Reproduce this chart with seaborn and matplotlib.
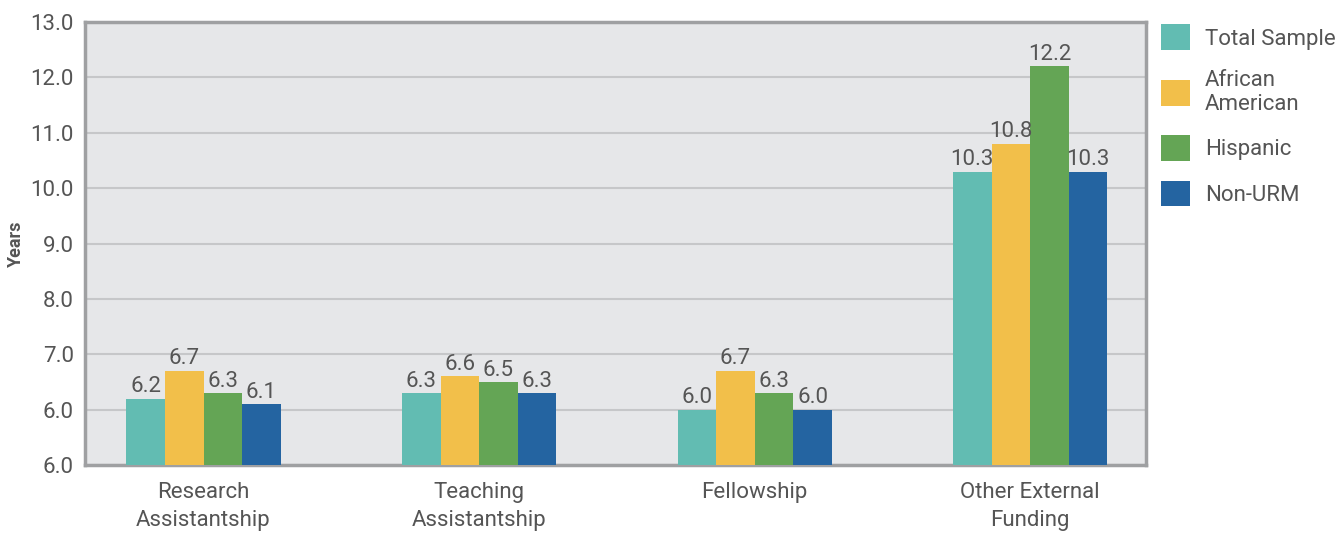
import matplotlib
matplotlib.use("Agg")
import matplotlib.pyplot as plt
import pandas as pd
import seaborn as sns

categories = ["Research\nAssistantship", "Teaching\nAssistantship", "Fellowship", "Other External\nFunding"]
groups = ["Total Sample", "African American", "Hispanic", "Non-URM"]
total_sample = [6.2, 6.3, 6.0, 10.3]
african_american = [6.7, 6.6, 6.7, 10.8]
hispanic = [6.3, 6.5, 6.3, 12.2]
non_urm = [6.1, 6.3, 6.0, 10.3]
ytick_values = [5, 6, 7, 8, 9, 10, 11, 12, 13]
ytick_labels = ["6.0", "6.0", "7.0", "8.0", "9.0", "10.0", "11.0", "12.0", "13.0"]
legend_labels = ["Total Sample", "African\nAmerican", "Hispanic", "Non-URM"]

colors = ["#62BCB2", "#F2BF4A", "#64A555", "#2464A1"]
text_color = "#555555"

rows = []
for g, vals in zip(groups, [total_sample, african_american, hispanic, non_urm]):
    for c, v in zip(categories, vals):
        rows.append({"category": c, "group": g, "years": v})
df = pd.DataFrame(rows)

sns.set_style("white")
plt.rcParams["font.family"] = ["Roboto", "DejaVu Sans"]

fig = plt.figure(figsize=(13.43, 5.33), dpi=100)
ax = fig.add_axes([0.0633, 0.1276, 0.79, 0.8311])
ax.set_facecolor("#E6E7E9")

sns.barplot(data=df, x="category", y="years", hue="group", hue_order=groups,
            palette=colors, width=0.56, gap=0, saturation=1, ax=ax,
            errorbar=None, legend=True, linewidth=0, zorder=3)

for cont in ax.containers:
    ax.bar_label(cont, fmt="%.1f", padding=1, fontsize=16, color=text_color)

ax.set_ylim(5, 13)
ax.set_xlim(-0.43, 3.42)
ax.set_yticks(ytick_values)
ax.set_yticklabels(ytick_labels)
ax.yaxis.grid(True, color="#C6C7C9", linewidth=1.5, zorder=0)
ax.set_axisbelow(True)
ax.tick_params(axis="both", labelsize=16, colors=text_color, length=0, pad=8)
ax.tick_params(axis="x", pad=12, labelsize=16)
for lbl in ax.get_xticklabels():
    lbl.set_linespacing(1.45)
ax.set_xlabel("")
ax.set_ylabel("Years", fontsize=13, fontweight="bold", color=text_color, labelpad=4)
for sp in ax.spines.values():
    sp.set_color("#9FA0A2")
    sp.set_linewidth(2.5)

handles, _ = ax.get_legend_handles_labels()
ax.legend(handles, legend_labels, loc="upper left", bbox_to_anchor=(0.995, 1.04),
          frameon=False, fontsize=16, labelcolor=text_color, handlelength=1.3,
          handleheight=1.4, handletextpad=0.7, labelspacing=0.9)

fig.savefig("out.png", dpi=100)
